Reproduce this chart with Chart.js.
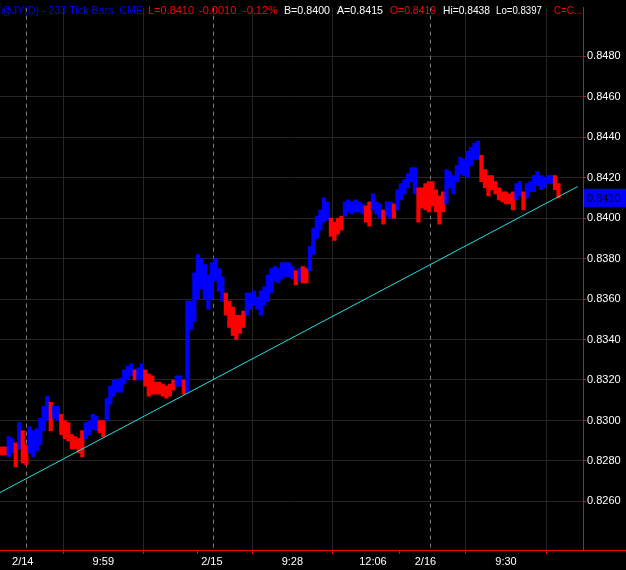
<!DOCTYPE html>
<html>
<head>
<meta charset="utf-8">
<script src="https://cdn.jsdelivr.net/npm/chart.js@4.4.0/dist/chart.umd.min.js"></script>
<style>
  html, body { margin: 0; padding: 0; background: #000; }
  canvas { display: block; }
</style>
</head>
<body>
<canvas id="myChart" width="626" height="570"></canvas>
<script>
// 233 tick bars, one entry per bar: high, low, direction (u = up/blue, d = down/red)
const barHigh = [
  0.8287, 0.8287, 0.8292, 0.8291, 0.8289, 0.8299, 0.8295, 0.8288, 0.8297, 0.8295,
  0.8296, 0.8301, 0.8307, 0.8312, 0.8309, 0.8307, 0.8307, 0.8303, 0.8300, 0.8299,
  0.8293, 0.8292, 0.8291, 0.8295, 0.8299, 0.8300, 0.8303, 0.8302, 0.8300, 0.8300,
  0.8311, 0.8317, 0.8320, 0.8320, 0.8321, 0.8325, 0.8327, 0.8328, 0.8325, 0.8326,
  0.8328, 0.8325, 0.8323, 0.8322, 0.8319, 0.8319, 0.8318, 0.8317, 0.8318, 0.8320,
  0.8322, 0.8322, 0.8320, 0.8359, 0.8359, 0.8373, 0.8382, 0.8380, 0.8377, 0.8372,
  0.8378, 0.8380, 0.8375, 0.8371, 0.8363, 0.8359, 0.8356, 0.8352, 0.8352, 0.8354,
  0.8363, 0.8363, 0.8364, 0.8361, 0.8364, 0.8366, 0.8372, 0.8375, 0.8376, 0.8375,
  0.8378, 0.8378, 0.8378, 0.8376, 0.8374, 0.8375, 0.8376, 0.8375, 0.8386, 0.8395,
  0.8401, 0.8404, 0.8410, 0.8408, 0.8400, 0.8398, 0.8400, 0.8401, 0.8408, 0.8409,
  0.8408, 0.8409, 0.8408, 0.8407, 0.8406, 0.8408, 0.8412, 0.8408, 0.8407, 0.8404,
  0.8408, 0.8408, 0.8407, 0.8414, 0.8417, 0.8419, 0.8422, 0.8425, 0.8425, 0.8415,
  0.8415, 0.8417, 0.8418, 0.8418, 0.8414, 0.8411, 0.8413, 0.8424, 0.8423, 0.8421,
  0.8426, 0.8430, 0.8429, 0.8433, 0.8435, 0.8437, 0.8438, 0.8431, 0.8424, 0.8421,
  0.8421, 0.8418, 0.8415, 0.8413, 0.8413, 0.8412, 0.8413, 0.8417, 0.8418, 0.8413,
  0.8417, 0.8418, 0.8421, 0.8423, 0.8421, 0.8420, 0.8421, 0.8421, 0.8421, 0.8417
];
const barLow = [
  0.8283, 0.8283, 0.8282, 0.8284, 0.8277, 0.8286, 0.8279, 0.8278, 0.8284, 0.8282,
  0.8285, 0.8288, 0.8295, 0.8300, 0.8295, 0.8301, 0.8300, 0.8293, 0.8291, 0.8290,
  0.8286, 0.8286, 0.8284, 0.8282, 0.8291, 0.8293, 0.8296, 0.8295, 0.8294, 0.8292,
  0.8300, 0.8308, 0.8312, 0.8314, 0.8314, 0.8318, 0.8320, 0.8322, 0.8320, 0.8320,
  0.8320, 0.8317, 0.8312, 0.8313, 0.8313, 0.8313, 0.8312, 0.8311, 0.8312, 0.8315,
  0.8317, 0.8317, 0.8313, 0.8314, 0.8345, 0.8349, 0.8360, 0.8365, 0.8360, 0.8355,
  0.8360, 0.8369, 0.8364, 0.8359, 0.8352, 0.8346, 0.8342, 0.8340, 0.8343, 0.8346,
  0.8352, 0.8355, 0.8357, 0.8355, 0.8352, 0.8357, 0.8359, 0.8363, 0.8369, 0.8368,
  0.8370, 0.8371, 0.8371, 0.8370, 0.8367, 0.8369, 0.8368, 0.8368, 0.8374, 0.8382,
  0.8390, 0.8394, 0.8398, 0.8399, 0.8391, 0.8389, 0.8392, 0.8394, 0.8401, 0.8403,
  0.8402, 0.8403, 0.8403, 0.8402, 0.8398, 0.8396, 0.8404, 0.8402, 0.8400, 0.8397,
  0.8401, 0.8400, 0.8400, 0.8404, 0.8409, 0.8412, 0.8415, 0.8418, 0.8412, 0.8398,
  0.8405, 0.8404, 0.8403, 0.8406, 0.8403, 0.8397, 0.8403, 0.8407, 0.8415, 0.8412,
  0.8418, 0.8422, 0.8421, 0.8420, 0.8426, 0.8429, 0.8429, 0.8418, 0.8415, 0.8411,
  0.8414, 0.8412, 0.8409, 0.8408, 0.8407, 0.8407, 0.8404, 0.8409, 0.8411, 0.8404,
  0.8410, 0.8413, 0.8413, 0.8416, 0.8414, 0.8415, 0.8417, 0.8417, 0.8414, 0.8410
];
const barDir = (
  "dduududduu" + "uuuuduuddd" + "dddduuuudd" + "uuuuuuuudu" +
  "uddddddddd" + "uuduuuuuuu" + "uuuudddddd" + "uuuuuuuuuu" +
  "uuuududduu" + "uuuudddduu" + "uuuudduuud" + "uuduuuuuud" +
  "ddddddduuu" + "uuuuuuuddd" + "ddddddduud" + "uuuuuuuudd"
).split("");

// time axis (bar index) labels
const tickBars = [6, 29, 52, 60, 83, 106, 121, 144];
const tickLabels = ["2/14", "9:59", "", "2/15", "9:28", "12:06", "2/16", "9:30"];
const dayBreaks = [7, 60.3, 122.3];

// price axis
const priceTicks = [0.826, 0.828, 0.830, 0.832, 0.834, 0.836, 0.838, 0.840, 0.842, 0.844, 0.846, 0.848];
const lastPrice = 0.8410;

// trend line
const trendX = [-0.5, 164.5];
const trendY = [0.82644, 0.84156];

const UP = "#0000ff";
const DOWN = "#ff0000";
const GRID = "#262626";
const FONT = "Liberation Sans, Arial, sans-serif";

const overlay = {
  id: "overlay",
  beforeDatasetsDraw(chart) {
    const ctx = chart.ctx;
    const x = chart.scales.x;
    const a = chart.chartArea;
    ctx.save();
    ctx.strokeStyle = "#7a7a7a";
    ctx.lineWidth = 1;
    ctx.setLineDash([4, 4]);
    dayBreaks.forEach((d) => {
      const px = Math.round(x.getPixelForValue(d)) + 0.5;
      ctx.beginPath();
      ctx.moveTo(px, a.top);
      ctx.lineTo(px, a.bottom);
      ctx.stroke();
    });
    ctx.restore();
  },
  afterDraw(chart) {
    const ctx = chart.ctx;
    const y = chart.scales.y;
    const a = chart.chartArea;
    ctx.save();
    // bottom axis line runs under the price scale too
    ctx.strokeStyle = DOWN;
    ctx.lineWidth = 1;
    ctx.beginPath();
    ctx.moveTo(a.right, Math.round(a.bottom) + 0.5);
    ctx.lineTo(chart.width, Math.round(a.bottom) + 0.5);
    ctx.stroke();

    // last price box
    const py = y.getPixelForValue(lastPrice);
    ctx.fillStyle = UP;
    ctx.fillRect(a.right + 1, py - 9, chart.width - a.right - 1, 18);
    ctx.fillStyle = "#000000";
    ctx.font = "11px " + FONT;
    ctx.textBaseline = "middle";
    ctx.fillText(lastPrice.toFixed(4), a.right + 4, py + 1);

    // header line: text, left x, width, colour
    const header = [
      ["@JY(D) - 233 Tick Bars  CME", 1, 142, "#0000ff"],
      ["L=0.8410", 148, 46, "#ff0000"],
      ["-0.0010", 199, 40, "#ff0000"],
      ["-0.12%", 243, 35, "#ff0000"],
      ["B=0.8400", 284, 46, "#ffffff"],
      ["A=0.8415", 337, 46, "#ffffff"],
      ["O=0.8419", 390, 46, "#ff0000"],
      ["Hi=0.8438", 443, 47, "#ffffff"],
      ["Lo=0.8397", 496, 46, "#ffffff"],
      ["C=C...", 554, 28, "#ff0000"],
    ];
    ctx.textBaseline = "alphabetic";
    header.forEach(([t, hx, w, c]) => {
      ctx.fillStyle = c;
      ctx.fillText(t, hx, 14, w);
    });
    ctx.restore();
  },
};

const ctx = document.getElementById("myChart").getContext("2d");
const myChart = new Chart(ctx, {
  type: "bar",
  data: {
    datasets: [
      {
        type: "line",
        data: trendX.map((v, i) => ({ x: v, y: trendY[i] })),
        borderColor: "#20e0e0",
        borderWidth: 1,
        pointRadius: 0,
        order: 0,
      },
      {
        type: "bar",
        data: barHigh.map((h, i) => ({ x: i, y: [barLow[i], h] })),
        backgroundColor: barDir.map((d) => (d === "u" ? UP : DOWN)),
        borderWidth: 0,
        barPercentage: 1,
        categoryPercentage: 1,
        order: 1,
      },
    ],
  },
  options: {
    responsive: false,
    animation: false,
    devicePixelRatio: 1,
    layout: { padding: 0 },
    plugins: {
      legend: { display: false },
      tooltip: { enabled: false },
    },
    scales: {
      x: {
        type: "linear",
        min: -0.5,
        max: 166,
        offset: false,
        afterBuildTicks: (s) => {
          s.ticks = tickBars.map((v) => ({ value: v }));
        },
        afterFit: (s) => {
          s.height = 20;
        },
        ticks: {
          autoSkip: false,
          maxRotation: 0,
          padding: 1,
          color: "#ffffff",
          font: { family: FONT, size: 11 },
          callback: (v, i) => tickLabels[i],
        },
        grid: {
          color: (c) => (c.index === 0 || c.index === 3 || c.index === 6 ? "rgba(0,0,0,0)" : GRID),
          tickColor: DOWN,
          tickLength: 4,
        },
        border: { color: DOWN, width: 1 },
      },
      y: {
        position: "right",
        min: 0.8236,
        max: 0.8504,
        afterBuildTicks: (s) => {
          s.ticks = priceTicks.map((v) => ({ value: v }));
        },
        afterFit: (s) => {
          s.width = 43;
        },
        ticks: {
          padding: 1,
          color: "#ffffff",
          font: { family: FONT, size: 11 },
          callback: (v) => v.toFixed(4),
        },
        grid: {
          color: GRID,
          tickColor: DOWN,
          tickLength: 3,
        },
        border: { color: DOWN, width: 1 },
      },
    },
  },
  plugins: [overlay],
});
</script>
</body>
</html>
